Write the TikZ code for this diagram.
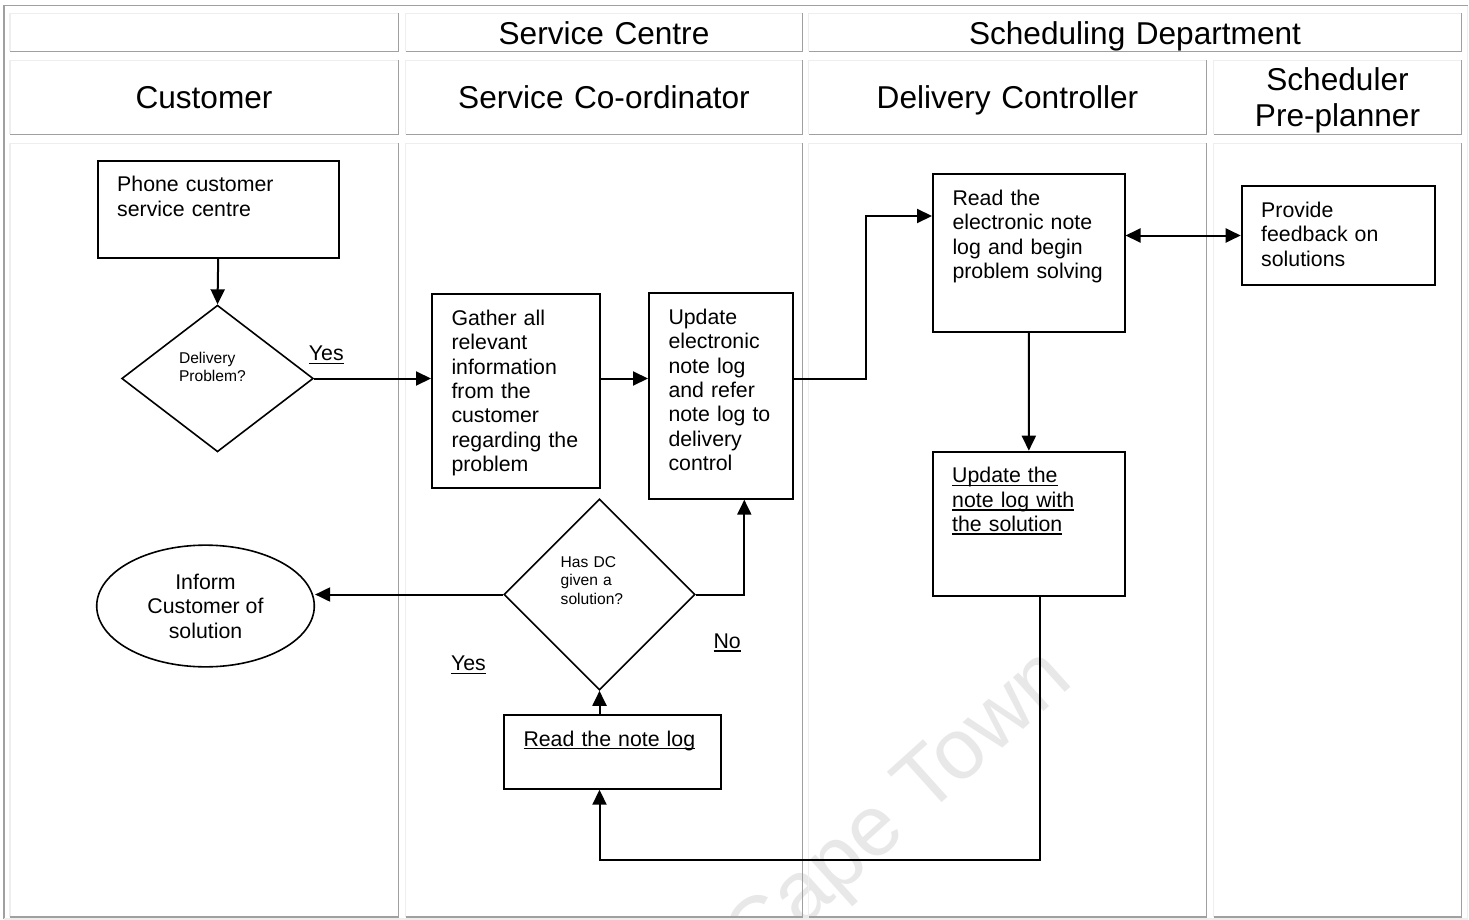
\documentclass[tikz,border=0pt]{standalone}
\usepackage{fontspec}
\setmainfont{Liberation Sans}
\usetikzlibrary{arrows.meta,shapes.geometric}

\definecolor{bevelhi}{HTML}{EEEEEE}
\definecolor{bevello}{HTML}{A0A0A0}
\definecolor{wmgray}{HTML}{E8E8E8}

\newcommand{\headfont}{\fontsize{31.6pt}{36.3pt}\selectfont}
\newcommand{\bodyfont}{\fontsize{21.3pt}{24.4pt}\selectfont}
\newcommand{\smallfont}{\fontsize{15.6pt}{18.4pt}\selectfont}

% underline drawn at a fixed distance below the baseline
\newsavebox{\ulnbox}
\newcommand{\uln}[1]{\sbox{\ulnbox}{#1}\leavevmode\rlap{\rule[-3.4pt]{\wd\ulnbox}{1.6pt}}\usebox{\ulnbox}}

\tikzset{
  hi/.style={draw=bevelhi, line width=1.4pt},
  lo/.style={draw=bevello, line width=1.4pt},
  head/.style={font=\headfont, text width=380pt, align=center, inner sep=0pt, anchor=base},
  stepbox/.style 2 args={draw, line width=2pt, rectangle, anchor=north west,
      inner xsep=19.5pt, inner ysep=0pt, text width=#1pt, text height=31pt, text depth=#2pt,
      align=left, font=\bodyfont},
  decision/.style={diamond, draw, line width=1.6pt, inner sep=0pt},
  note/.style={font=\smallfont, text width=90pt, align=left, inner sep=0pt, anchor=base west},
  lbl/.style={font=\bodyfont, inner sep=0pt, anchor=base west},
  tip/.tip={Triangle[length=15pt,width=14pt]},
  arr/.style={line width=2pt, -tip},
  biarr/.style={line width=2pt, tip-tip},
}

\begin{document}
\begin{tikzpicture}[x=1pt, y=-1pt]
\useasboundingbox (0,0) rectangle (1469,920);
\fill[white] (0,0) rectangle (1469,920);

% faint watermark lettering
\begin{scope}
  \clip (0,0) rectangle (1469,920);
  \node[rotate=42, anchor=base west, inner sep=0pt, text=wmgray,
        font=\fontsize{86pt}{86pt}\selectfont] (mark) at (755,971) {Cape Town};
\end{scope}

% outer table frame
\draw[lo] (4,919) |- (1467.5,5.7);
\draw[hi] (4,919) -| (1467.5,5.7);

% bevelled table cells
\foreach \xa/\ya/\xb/\yb in {
  10/13.5/398.5/51.5, 405.5/13.5/802.5/51.5, 808.5/13.5/1461.5/51.5,
  10/60.5/398.5/134.5, 405.5/60.5/802.5/134.5, 808.5/60.5/1206.5/134.5, 1213.5/60.5/1461.5/134.5,
  10/143.5/398.5/917, 405.5/143.5/802.5/917, 808.5/143.5/1206.5/917, 1213.5/143.5/1461.5/917}
{
  \draw[hi] (\xa,\yb) |- (\xb,\ya);
  \draw[lo] (\xa,\yb) -| (\xb,\ya);
}

% column headings
\node[head] (hcentre) at (604,44.5) {Service Centre};
\node[head] (hsched) at (1135,44.5) {Scheduling Department};
\node[head] (hcust) at (204,108.5) {Customer};
\node[head] (hcoord) at (604,108.5) {Service Co-ordinator};
\node[head] (hdc) at (1007.5,108.5) {Delivery Controller};
\node[head] (hpre) at (1337.5,90.3) {Scheduler\\Pre-planner};

% process steps
\node[stepbox={202}{65.7}] (phone) at (96.7,160) {Phone customer\\service centre};
\node[stepbox={129.3}{162.4}] (gather) at (431,293.3) {Gather all\\relevant\\information\\from the\\customer\\regarding~the\\problem};
\node[stepbox={104.7}{174.4}] (update) at (648,292.3) {Update\\electronic\\note log\\and refer\\note~log~to\\delivery\\control};
\node[stepbox={152.5}{126.5}] (read) at (932,173.5) {Read the\\electronic~note\\log~and~begin\\problem~solving};
\node[stepbox={154.3}{67}] (provide) at (1240.7,185.5) {Provide\\feedback on\\solutions};
\node[stepbox={153.3}{113}] (update2) at (931.7,450.7) {\uln{Update the}\\\uln{note log with}\\\uln{the solution}};
\node[stepbox={177.8}{42.7}] (readlog) at (503,714) {\uln{Read the note log}};

% decisions
\node[decision, minimum width=191.6pt, minimum height=146.7pt] (d1) at (217.5,378.5) {};
\node[note] (d1t) at (178.8,363.3) {Delivery\\Problem?};
\node[decision, minimum width=191pt, minimum height=191pt] (d2) at (599.5,594.5) {};
\node[note] (d2t) at (560.5,567.3) {Has DC\\given a\\solution?};

% end of the process
\node[ellipse, draw, line width=1.6pt, minimum width=217.6pt, minimum height=121.7pt,
      inner sep=0pt, align=center, font=\bodyfont] (inform) at (205.5,606) {Inform\\Customer of\\solution};

% branch labels
\node[lbl] (yes1) at (308.7,360.7) {\uln{Yes}};
\node[lbl] (yes2) at (450.8,670.7) {\uln{Yes}};
\node[lbl] (no) at (713.4,648.3) {\uln{No}};

% connectors
\coordinate (jog) at (866,378.5);
\coordinate (loopcorner) at (1040,860);
\draw[arr] (phone.south) -- (d1.north);
\draw[arr] (d1.east) -- (d1.east -| gather.west);
\draw[arr] (gather.east |- d1) -- (update.west |- d1);
\draw[arr] (update.east |- d1) -- (jog) |- ([yshift=37.25pt]read.west);
\draw[biarr] (read.east |- provide.west) -- (provide.west);
\draw[arr] (read.south) -- (update2.north);
\draw[arr] (update2.south -| loopcorner) -- (loopcorner) -| (d2.south |- readlog.south);
\draw[arr] (d2.south |- readlog.north) -- (d2.south);
\draw[arr] (d2.west) -- (d2.west -| inform.east);
\draw[arr] (d2.east) -| ([xshift=23.45pt]update.south);
\end{tikzpicture}
\end{document}
